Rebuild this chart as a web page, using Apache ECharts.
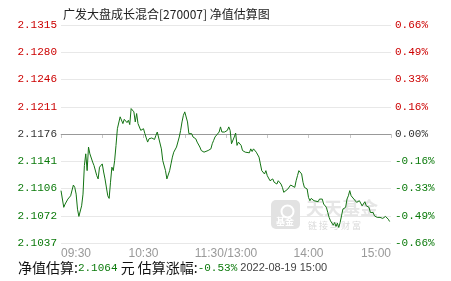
<!DOCTYPE html>
<html>
<head>
<meta charset="utf-8">
<script src="https://cdn.jsdelivr.net/npm/echarts@6/dist/echarts.min.js"></script>
<style>
  html, body { margin: 0; padding: 0; background: #fff; }
  #chart { width: 451px; height: 281px; }
</style>
</head>
<body>
<div id="chart"></div>
<script>
// 分钟 (从 09:30 起, 午休合并) 与估算涨幅(%)
const minutes = [
  0, 2, 3, 5, 7, 9, 10, 11, 12, 13, 15, 16, 17, 18, 19, 20, 21, 23, 24, 26,
  27, 28, 30, 31, 32, 34, 35, 36, 37, 38, 39, 40, 41, 43, 44, 45, 46, 48, 49, 50,
  51, 53, 54, 55, 56, 58, 60, 61, 62, 63, 64, 65, 66, 68, 69, 70, 71, 73, 74, 76,
  77, 79, 80, 81, 82, 83, 84, 86, 87, 88, 89, 90, 92, 93, 94, 95, 96, 98, 99, 100,
  101, 102, 104, 105, 107, 109, 110, 111, 112, 113, 115, 116, 117, 118, 119, 121, 122, 123, 124, 126,
  127, 128, 129, 131, 132, 133, 134, 135, 137, 138, 139, 140, 142, 143, 144, 145, 146, 148, 149, 150,
  151, 152, 154, 155, 156, 157, 158, 160, 161, 162, 163, 165, 166, 167, 168, 170, 171, 172, 173, 174,
  175, 176, 177, 179, 180, 181, 182, 183, 184, 185, 187, 188, 189, 190, 191, 193, 194, 195, 196, 198,
  199, 200, 201, 202, 203, 204, 205, 207, 208, 209, 210, 211, 213, 214, 215, 216, 217, 219, 220, 221,
  222, 224, 225, 226, 227, 228, 230, 231, 232, 233, 234, 236, 237, 238, 239
]
const changePct = [
  -0.343, -0.444, -0.424, -0.394, -0.374, -0.309, -0.323, -0.364, -0.455, -0.499, -0.435, -0.364, -0.191, -0.120, -0.222, -0.079, -0.120, -0.170, -0.191, -0.252,
  -0.272, -0.201, -0.181, -0.230, -0.272, -0.374, -0.390, -0.292, -0.201, -0.222, -0.161, -0.069, 0.032, 0.104, 0.113, 0.063, 0.089, 0.069, 0.083, 0.057,
  0.154, 0.134, 0.073, 0.124, 0.063, 0.022, 0.032, 0.002, -0.024, -0.049, -0.029, -0.039, -0.024, -0.033, -0.009, 0.012, 0.002, -0.090, -0.161, -0.222,
  -0.272, -0.222, -0.181, -0.140, -0.110, -0.120, -0.079, -0.018, 0.022, 0.073, 0.113, 0.134, 0.073, 0.002, -0.009, 0.002, -0.018, -0.029, -0.049, -0.039,
  -0.079, -0.100, -0.110, -0.106, -0.100, -0.090, -0.059, -0.039, -0.018, -0.009, 0.012, 0.043, 0.012, 0.022, 0.012, 0.022, 0.043, 0.022, -0.059, -0.018,
  0.006, -0.069, -0.049, -0.069, -0.100, -0.090, -0.110, -0.100, -0.114, -0.090, -0.106, -0.090, -0.110, -0.100, -0.140, -0.181, -0.222, -0.242, -0.222, -0.252,
  -0.262, -0.283, -0.272, -0.292, -0.283, -0.303, -0.283, -0.303, -0.323, -0.353, -0.359, -0.333, -0.329, -0.309, -0.317, -0.323, -0.283, -0.252, -0.222, -0.211,
  -0.242, -0.292, -0.323, -0.333, -0.384, -0.404, -0.390, -0.394, -0.404, -0.394, -0.410, -0.394, -0.384, -0.394, -0.424, -0.444, -0.475, -0.505, -0.526, -0.552,
  -0.536, -0.560, -0.540, -0.566, -0.536, -0.496, -0.455, -0.444, -0.394, -0.374, -0.343, -0.374, -0.394, -0.384, -0.414, -0.424, -0.404, -0.435, -0.424, -0.410,
  -0.435, -0.444, -0.475, -0.485, -0.475, -0.496, -0.505, -0.496, -0.505, -0.496, -0.511, -0.499, -0.505, -0.516, -0.530
]

// 坐标刻度文字
const navLabels = ['2.1037', '2.1072', '2.1106', '2.1141', '2.1176', '2.1211', '2.1246', '2.1280', '2.1315']
const pctLabels = ['-0.66%', '-0.49%', '-0.33%', '-0.16%', '0.00%', '0.16%', '0.33%', '0.49%', '0.66%']
const timeLabels = { 0: '09:30', 60: '10:30', 120: '11:30/13:00', 180: '14:00', 240: '15:00' }

const titleText = '广发大盘成长混合[270007] 净值估算图'
const navEstimate = '2.1064'
const pctEstimate = '-0.53%'
const stamp = '2022-08-19 15:00'

const STEP = 0.165
const idx = v => Math.round((Number(v) + 0.66) / STEP)
const tickColor = v => {
  const i = idx(v)
  if (i > 4) return '#cc0000'
  if (i < 4) return '#0b7a0b'
  return '#333'
}

const lineData = minutes.map((m, i) => [m, changePct[i]])

const option = {
  animation: false,
  title: {
    text: titleText,
    left: 58,
    top: 3,
    textStyle: { fontSize: 12, fontWeight: 'normal', color: '#222', fontFamily: 'Noto Sans CJK SC' }
  },
  grid: { left: 61, right: 60, top: 25, bottom: 38 },
  xAxis: {
    type: 'value',
    min: 0,
    max: 240,
    interval: 30,
    axisLine: { lineStyle: { color: '#c8c8c8' } },
    axisTick: { length: 4, lineStyle: { color: '#c8c8c8' } },
    splitLine: { show: false },
    axisLabel: {
      color: '#999',
      fontSize: 12,
      fontFamily: 'Liberation Sans',
      margin: 5,
      alignMinLabel: 'left',
      alignMaxLabel: 'right',
      formatter: v => timeLabels[v] || ''
    }
  },
  yAxis: [
    {
      type: 'value',
      min: -0.66,
      max: 0.66,
      interval: STEP,
      axisLine: { show: false },
      axisTick: { show: false },
      splitLine: { lineStyle: { color: '#e8e8e8' } },
      axisLabel: {
        margin: 4,
        fontSize: 11,
        fontFamily: 'Liberation Mono',
        color: tickColor,
        formatter: v => navLabels[idx(v)]
      }
    },
    {
      type: 'value',
      min: -0.66,
      max: 0.66,
      interval: STEP,
      position: 'right',
      axisLine: { show: false },
      axisTick: { show: false },
      splitLine: { show: false },
      axisLabel: {
        margin: 4,
        fontSize: 11,
        fontFamily: 'Liberation Mono',
        color: tickColor,
        formatter: v => pctLabels[idx(v)]
      }
    }
  ],
  // 水印
  graphic: [
    { type: 'rect', left: 271, top: 200, z: 1, shape: { width: 29, height: 29, r: 5 }, style: { fill: '#e2e2e2' } },
    { type: 'circle', left: 279, top: 203, z: 2, shape: { r: 6 }, style: { fill: 'none', stroke: '#fff', lineWidth: 2 } },
    { type: 'text', left: 276, top: 217, z: 2, style: { text: '基金', fill: '#fff', font: 'bold 9px "Noto Sans CJK SC"' } },
    { type: 'text', left: 306, top: 199, z: 1, style: { text: '天天基金', fill: '#e6e6e6', font: 'bold 18px "Noto Sans CJK SC"' } },
    { type: 'text', left: 308, top: 221, z: 1, style: { text: '链 接 与 财 富', fill: '#dadada', font: '9px "Noto Sans CJK SC"' } },
    {
      type: 'text',
      left: 18,
      top: 261,
      style: {
        text: '{a|净值估算:}{g|' + navEstimate + '}{a| 元 估算涨幅:}{g|' + pctEstimate + '}{d| ' + stamp + '}',
        rich: {
          a: { fontSize: 14, fill: '#111', fontFamily: 'Noto Sans CJK SC' },
          g: { fontSize: 11, fill: '#0b7a0b', fontFamily: 'Liberation Mono' },
          d: { fontSize: 11, fill: '#444', fontFamily: 'Liberation Sans' }
        }
      }
    }
  ],
  series: [
    {
      type: 'line',
      data: lineData,
      showSymbol: false,
      z: 5,
      lineStyle: { color: '#137313', width: 1 },
      markLine: {
        silent: true,
        symbol: 'none',
        label: { show: false },
        lineStyle: { color: '#999', type: 'solid', width: 1 },
        data: [{ yAxis: 0 }]
      }
    }
  ]
}

const E = echarts.init(document.getElementById('chart'))
E.setOption(option)
</script>
</body>
</html>
